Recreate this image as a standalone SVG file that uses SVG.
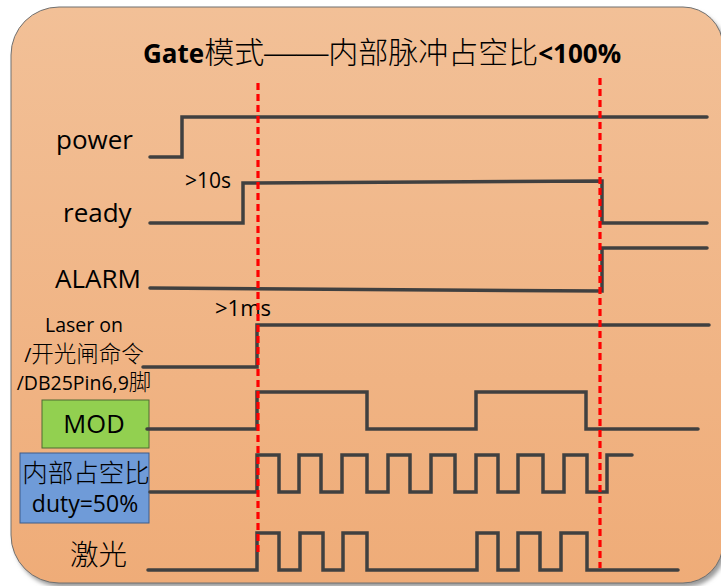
<svg xmlns="http://www.w3.org/2000/svg" width="721" height="586" viewBox="0 0 721 586">
  <defs>
    <linearGradient id="bg" x1="0" y1="0" x2="0" y2="1">
      <stop offset="0" stop-color="#F2C097"/>
      <stop offset="1" stop-color="#EFAC78"/>
    </linearGradient>
    <filter id="shadow" x="-5%" y="-5%" width="110%" height="110%">
      <feGaussianBlur stdDeviation="2"/>
    </filter>
  </defs>
  <style>
    .wave { fill: none; stroke: #404040; stroke-width: 3.5; stroke-linejoin: miter; stroke-linecap: round; }
    .mark { fill: none; stroke: #FF0000; stroke-width: 3.2; stroke-dasharray: 7 4; }
    .lbl { font-family: "Open Sans", "Noto Sans CJK SC", sans-serif; fill: #000; }
    .cjk { font-family: "Noto Sans CJK SC", sans-serif; font-weight: 300; }
    .box-mod { fill: #92D050; stroke: #4E6B33; stroke-width: 1; }
    .box-duty { fill: #6F9BD8; stroke: #3E5C8A; stroke-width: 1; }
  </style>

  <rect width="721" height="586" fill="#FFFFFF"/>
  <!-- background panel -->
  <path d="M62,11 H686 A40,40 0 0 1 726,51 V547 A40,40 0 0 1 686,587 H62 A48,48 0 0 1 14,539 V59 A48,48 0 0 1 62,11 Z" fill="#9A9A9A" filter="url(#shadow)"/>
  <path id="panel" d="M59,7 H683 A40,40 0 0 1 723,47 V543 A40,40 0 0 1 683,583 H59 A48,48 0 0 1 11,535 V55 A48,48 0 0 1 59,7 Z" fill="url(#bg)" stroke="#707070" stroke-width="1"/>

  <!-- title -->
  <text id="title" x="143" y="63" class="lbl" font-size="30"><tspan font-family="Open Sans, sans-serif" font-weight="bold" font-size="26">Gate</tspan><tspan class="cjk">模式</tspan><tspan font-family="Liberation Serif, serif" font-size="32">——</tspan><tspan class="cjk">内部脉冲占空比</tspan><tspan font-family="Open Sans, sans-serif" font-weight="bold" font-size="26">&lt;100%</tspan></text>

  <g id="power">
    <text class="lbl" x="56" y="149" font-size="26">power</text>
    <path class="wave" d="M150,157 H182 V117 H707"/>
  </g>

  <g id="ready">
    <text class="lbl" x="63" y="222" font-size="26">ready</text>
    <text class="lbl" x="185" y="188" font-size="21">&gt;10s</text>
    <path class="wave" d="M150,223 H243 V183 L602,181 V223 H707"/>
  </g>

  <g id="alarm">
    <text class="lbl" x="55" y="288" font-size="26">ALARM</text>
    <path class="wave" d="M150,288 L602,291 V248 H707"/>
  </g>

  <g id="laser-on">
    <text class="lbl" x="215" y="316" font-size="22">&gt;1ms</text>
    <text class="lbl" x="84" y="332" font-size="19.5" text-anchor="middle">Laser on</text>
    <text class="lbl" x="84" y="362" font-size="19.5" text-anchor="middle">/<tspan class="cjk" font-size="22.5">开光闸命令</tspan></text>
    <text class="lbl" x="84" y="390" font-size="19.5" text-anchor="middle">/DB25Pin6,9<tspan class="cjk" font-size="22.5">脚</tspan></text>
    <path class="wave" d="M143,367 H257 V325 H709"/>
  </g>

  <g id="mod">
    <rect class="box-mod" x="42" y="400" width="107" height="48"/>
    <text class="lbl" x="94" y="433" font-size="25.5" text-anchor="middle">MOD</text>
    <path class="wave" d="M147,429 H257 V392 H367 V429 H476 V392 H586 V429 H698"/>
  </g>

  <g id="duty">
    <rect class="box-duty" x="20" y="453" width="129" height="70"/>
    <text class="lbl cjk" x="86" y="482" font-size="25.5" text-anchor="middle">内部占空比</text>
    <text class="lbl" x="85" y="512" font-size="23" text-anchor="middle">duty=50%</text>
    <path class="wave" d="M150,492 H257 V455 H279 V492 H299 V455 H321 V492 H342 V455 H367 V492 H388 V455 H410 V492 H431 V455 H455 V492 H476 V455 H498 V492 H518 V455 H543 V492 H564 V455 H587 V492 H607 V455 H632"/>
  </g>

  <g id="laser">
    <text class="lbl cjk" x="70" y="565" font-size="28.5">激光</text>
    <path class="wave" d="M148,570 H257 V533 H279 V570 H300 V533 H323 V570 H343 V533 H367 V570 H477 V533 H498 V570 H518 V533 H540 V570 H561 V533 H587 V570 H678"/>
  </g>

  <g id="connectors">
    <line class="mark" x1="258" y1="83" x2="258" y2="555"/>
    <line class="mark" x1="600" y1="78" x2="600" y2="568"/>
  </g>
</svg>
